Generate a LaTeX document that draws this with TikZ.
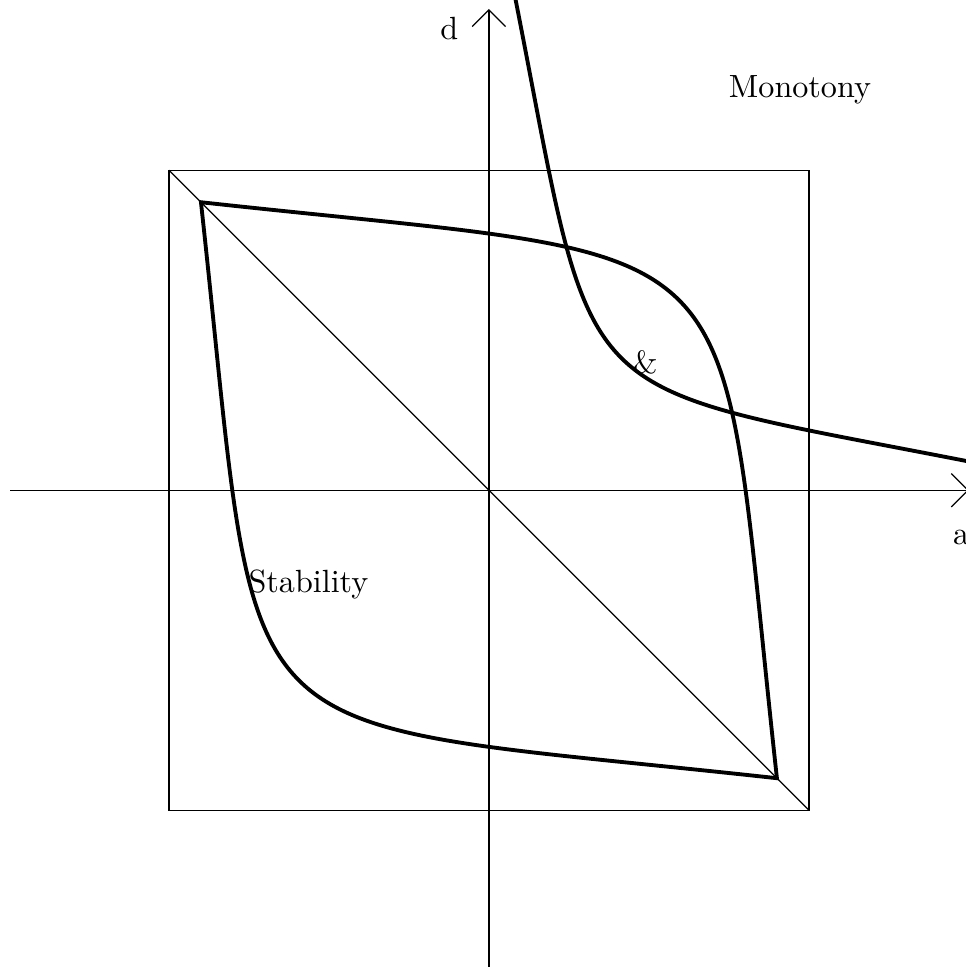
\documentclass[tikz,border=0pt]{standalone}
\usepackage{amsmath,amssymb}
\usepackage{tikz}
\usetikzlibrary{arrows.meta,positioning,calc}

\begin{document}
\begin{tikzpicture}[x=0.7cm, y=0.7cm,
    axis/.style={-{Straight Barb[length=5.2pt,width=10.4pt]}},
    bold/.style={very thick, line join=miter}]
                    \useasboundingbox (-7.64,-7.45) rectangle (7.45,7.66);
                    % axes
                    \coordinate (xs) at (-7.48,0);
                    \coordinate (xe) at (7.5,0);
                    \coordinate (ys) at (0,-7.6);
                    \coordinate (ye) at (0,7.52);
                    \draw[axis] (xs) -- (xe);
                    \draw[axis] (ys) -- (ye);
                    \node (a) at (7.38,-0.74) {a};
                    \node (d) at (-0.62,7.22) {d};
                    % box and diagonal
                    \draw (-5,-5) rectangle (5,5);
                    \draw (-5,5) -- (5,-5);
                    % loop
                    \draw[bold] (-4.5,4.5) .. controls (4.4,3.52) and (3.52,4.4) .. (4.5,-4.5)
                        .. controls (-4.4,-3.52) and (-3.52,-4.4) .. cycle;
                    % second curve
                    \draw[bold] (0.35,8) .. controls (1.75,0.98) and (0.98,1.75) .. (8,0.35);
                    % labels
                    \node (mono) at (4.86,6.26) {Monotony};
                    \node (stab) at (-2.82,-1.48) {Stability};
                    \node (amp) at (2.44,2.0) {\&};
                \end{tikzpicture}
\end{document}
